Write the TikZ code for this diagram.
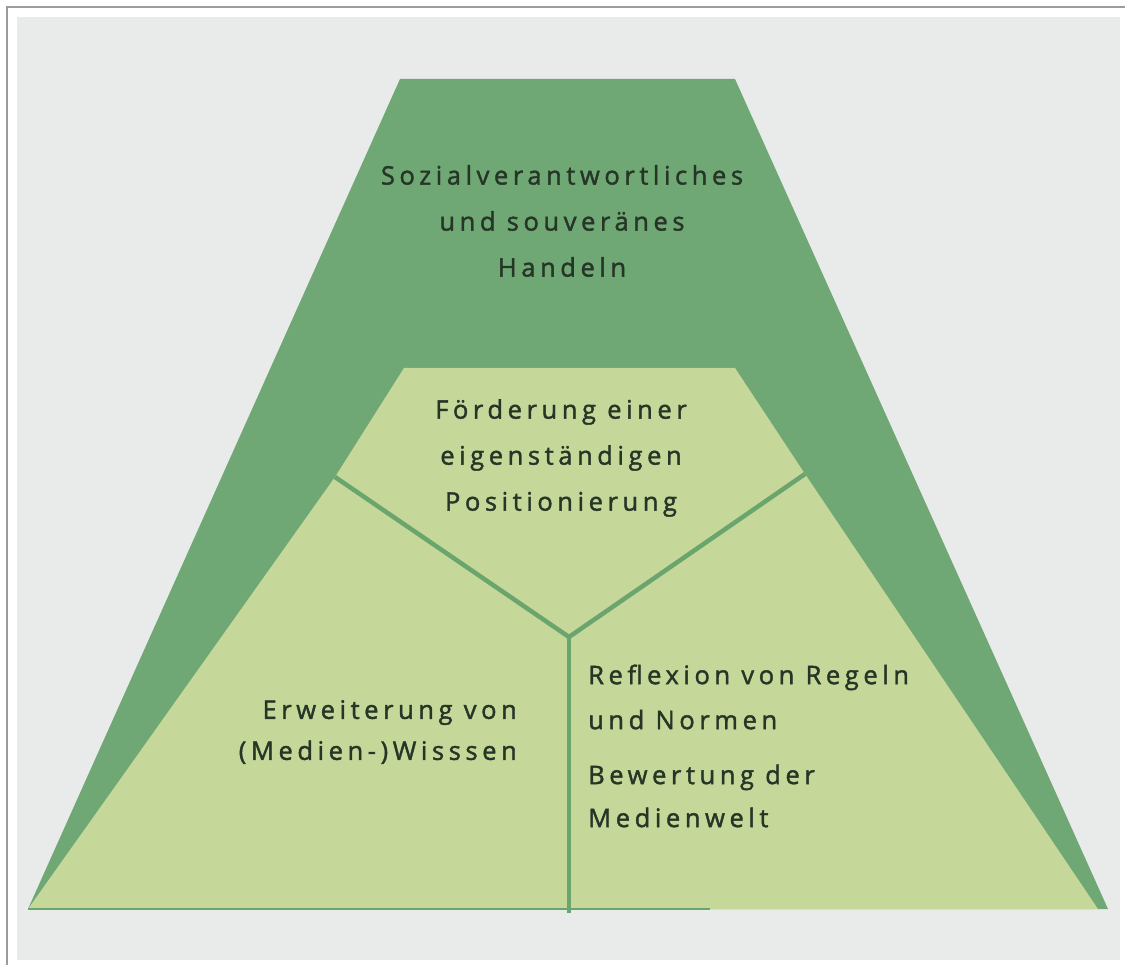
\documentclass[tikz,border=0pt]{standalone}
\usepackage{fontspec}
\setmainfont{Open Sans}[LetterSpace=18, FakeBold=1.6]
\definecolor{bgc}{HTML}{E9EBEA}
\definecolor{framec}{HTML}{9C9C9C}
\definecolor{darkg}{HTML}{6FA874}
\definecolor{lightg}{HTML}{C6D79A}
\definecolor{lineg}{HTML}{6AA56D}
\definecolor{txt}{HTML}{263626}
\tikzset{
  lbl/.style={font=\fontsize{25.5}{46}\selectfont, text=txt, inner sep=0pt},
  divider/.style={draw=lineg, line width=4.5pt, line cap=butt, line join=miter},
  baseline line/.style={draw=lineg, line width=2pt}
}
\begin{document}
\begin{tikzpicture}[x=1pt,y=-1pt]
\useasboundingbox (0,0) rectangle (1125,965);
\fill[white] (0,0) rectangle (1125,965);
\fill[bgc] (17,17) rectangle (1120,960);
\draw[framec, line width=2.5pt] (7,965) -- (7,7) -- (1125,7);
% outer trapezoid
\fill[darkg] (400,79) -- (735,79) -- (1108,909) -- (28,909) -- cycle;
% inner light shape
\fill[lightg] (404,368) -- (735,368) -- (805,474) -- (1098,909) -- (28,909) -- (335,477) -- cycle;
\coordinate (L) at (335,477);
\coordinate (R) at (805,474);
\coordinate (C) at (569,637);
\coordinate (B) at (569,913);
\coordinate (BL) at (28,909);
\coordinate (BM) at (710,909);
\draw[baseline line] (BL) -- (BM);
\draw[divider] (L) -- (C) -- (R);
\draw[divider] (C) -- (B);
% texts
\node[lbl, align=center] (top) at (562,221) {Sozialverantwortliches\\und souveränes\\Handeln};
\node[lbl, align=center] (mid) at (561,458) {Förderung einer\\eigenständigen\\Positionierung};
\node[lbl, align=right, anchor=east, font=\fontsize{25.5}{41}\selectfont] (left) at (517,732) {Erweiterung von\\(Medien-)Wisssen};
\node[lbl, align=left, anchor=west, font=\fontsize{25.5}{45}\selectfont] (right1) at (588,697) {Reflexion von Regeln\\und Normen};
\node[lbl, align=left, anchor=west, font=\fontsize{25.5}{43}\selectfont] (right2) at (588,796) {Bewertung der\\Medienwelt};
\end{tikzpicture}
\end{document}
